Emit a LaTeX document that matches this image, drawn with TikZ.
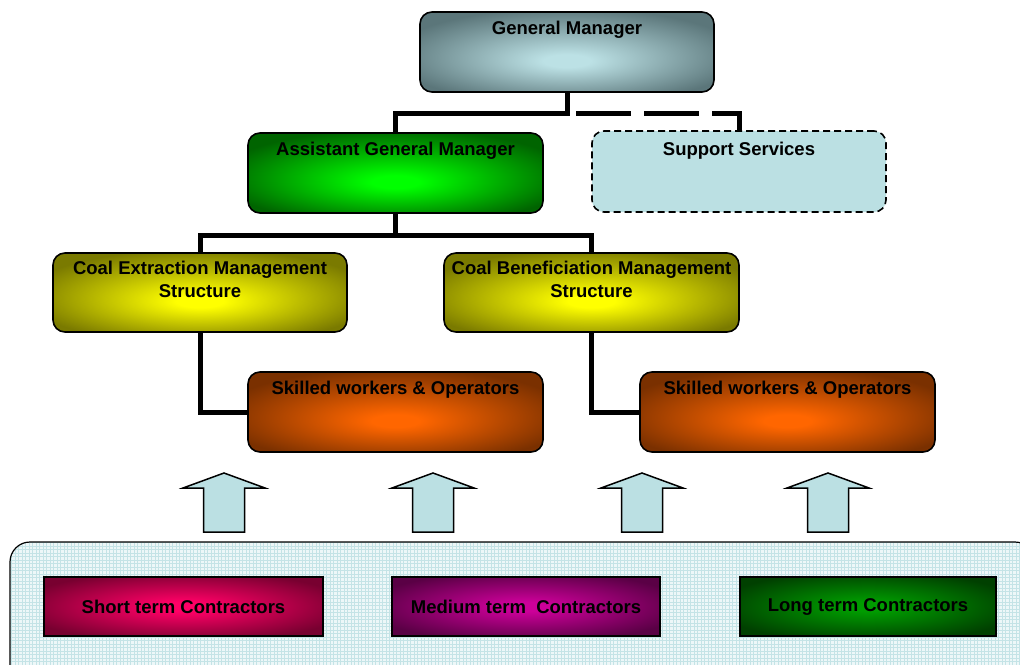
\documentclass[tikz,border=0pt]{standalone}
\usepackage{fontspec}
\setmainfont{Liberation Sans}
\definecolor{gmin}{HTML}{BCE1E5}
\definecolor{gmout}{HTML}{5B767A}
\definecolor{agmin}{HTML}{00FF00}
\definecolor{agmout}{HTML}{006400}
\definecolor{coalin}{HTML}{FFFF00}
\definecolor{coalout}{HTML}{7A7A00}
\definecolor{skin}{HTML}{FF6600}
\definecolor{skout}{HTML}{7A3000}
\definecolor{shin}{HTML}{FF0066}
\definecolor{shout}{HTML}{780030}
\definecolor{mdin}{HTML}{CC0099}
\definecolor{mdout}{HTML}{5A0045}
\definecolor{lgin}{HTML}{009C00}
\definecolor{lgout}{HTML}{004000}
\definecolor{supfill}{HTML}{BBE0E3}
\definecolor{poolbg}{HTML}{EDF7F8}
\definecolor{poolgrid}{HTML}{C4E3E6}
\newcommand\myglow[4]{\pgfdeclareradialshading{#1}{\pgfpoint{0bp}{#4}}{color(0bp)=(#2); color(4bp)=(#2); color(30bp)=(#3); color(50bp)=(#3)}}
\myglow{gmglow}{gmin}{gmout}{-6bp}
\myglow{agmglow}{agmin}{agmout}{-6bp}
\myglow{coalglow}{coalin}{coalout}{-6bp}
\myglow{skglow}{skin}{skout}{-6bp}
\myglow{shglow}{shin}{shout}{0bp}
\myglow{mdglow}{mdin}{mdout}{0bp}
\myglow{lgglow}{lgin}{lgout}{0bp}
\tikzset{
  rbox/.style={draw=black, line width=1.6pt, rounded corners=12pt, inner sep=0pt, minimum width=295pt, minimum height=80pt},
  cbox/.style={draw=black, line width=1.8pt, inner sep=0pt, minimum height=59pt, font=\fontsize{18.5}{22}\selectfont\bfseries},
  txt/.style={inner sep=0pt, anchor=north, align=center, font=\fontsize{18.5}{23.3}\selectfont\bfseries},
  link/.style={line width=5pt, draw=black},
  dlink/.style={line width=5pt, draw=black, dash pattern=on 55pt off 13pt, dash phase=59pt},
  uparrow/.style={draw=black, line width=1.5pt, fill=supfill, line join=miter},
  pool/.style={draw=black, line width=1.2pt, rounded corners=20pt, fill=poolbg, inner sep=0pt,
    minimum width=1025pt, minimum height=148pt,
    path picture={\draw[poolgrid, line width=0.5pt, step=3.5pt] (path picture bounding box.south west) grid (path picture bounding box.north east);}}
}
\begin{document}
\begin{tikzpicture}[x=1pt,y=-1pt]
\clip (0,0) rectangle (1020,664);
\fill[white] (0,0) rectangle (1020,664);
% boxes
\node[rbox, shading=gmglow, minimum width=294pt] (gm) at (567,52) {};
\node[rbox, shading=agmglow] (agm) at (395.5,173) {};
\node[rbox, fill=supfill, dashed, dash pattern=on 7pt off 4pt, minimum width=294pt, minimum height=81pt] (sup) at (739,171.5) {};
\node[rbox, shading=coalglow, minimum width=294pt, minimum height=79pt] (ce) at (200,292.5) {};
\node[rbox, shading=coalglow, minimum height=79pt] (cb) at (591.5,292.5) {};
\node[rbox, shading=skglow] (sk1) at (395.5,412) {};
\node[rbox, shading=skglow] (sk2) at (787.5,412) {};
% texts
\node[txt] (gmt) at ([yshift=-9.9pt]gm.north) {General Manager};
\node[txt] (agmt) at ([yshift=-9.7pt]agm.north) {Assistant General Manager};
\node[txt] (supt) at ([yshift=-11.7pt]sup.north) {Support Services};
\node[txt] (cet) at ([yshift=-8.7pt]ce.north) {Coal Extraction Management\\Structure};
\node[txt] (cbt) at ([yshift=-8.7pt]cb.north) {Coal Beneficiation Management\\Structure};
\node[txt] (sk1t) at ([yshift=-9.7pt]sk1.north) {Skilled workers \& Operators};
\node[txt] (sk2t) at ([yshift=-9.7pt]sk2.north) {Skilled workers \& Operators};
% connectors
\draw[link] (gm.south) -- ++(0,21) -| (agm.north);
\draw[dlink] ([yshift=-21pt]gm.south) -| (sup.north);
\draw[link] (agm.south) -- ++(0,22) -| (ce.north);
\draw[link] ([yshift=-22pt]agm.south) -| (cb.north);
\draw[link] (ce.south) |- (sk1.west);
\draw[link] (cb.south) |- (sk2.west);
% up arrows
\foreach \c in {224,433,642,828}{
  \draw[uparrow] (\c-20.5,532) -- (\c-20.5,488) -- (\c-41,488) -- (\c,473) -- (\c+41,488) -- (\c+20.5,488) -- (\c+20.5,532) -- cycle;
}
% contractor pool
\node[pool] (pool) at (522.5,616) {};
\node[cbox, shading=shglow, minimum width=279pt] (short) at (183.5,606.5) {Short term Contractors};
\node[cbox, shading=mdglow, minimum width=268pt] (medium) at (526,606.5) {Medium term\ \ Contractors};
\node[cbox, shading=lgglow, minimum width=256pt] (long) at (868,606.5) {Long term Contractors};
\end{tikzpicture}
\end{document}
